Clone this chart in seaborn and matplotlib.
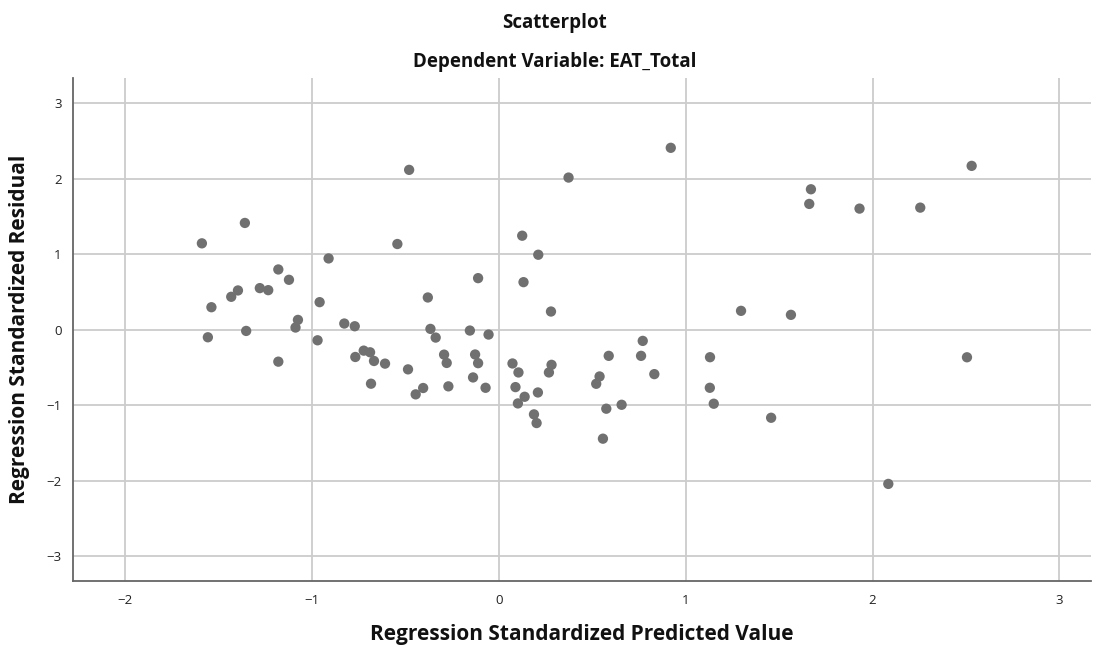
import numpy as np
import pandas as pd
import matplotlib
matplotlib.use("Agg")
import matplotlib.pyplot as plt
import seaborn as sns

# Values (standardized predicted value, standardized residual)
pred_values = [
    -1.589, -1.359, -0.480, -0.543, -0.911, -1.180, -1.123, -1.432, -1.396, -1.279,
    -1.234, -1.538, -1.557, -1.352, -0.959, -1.075, -1.088, -0.380, -0.970, -0.827,
    -0.771, -0.366, -0.338, -1.180,
    -0.768, -0.723, -0.689, -0.668, -0.609, -0.684, -0.486, -0.293, -0.279, -0.270,
    -0.445, -0.405,
    0.920, 0.373, 0.125, 0.211, -0.111, 0.132, 0.279, 1.296, -0.155, -0.055, 0.770,
    -0.127, -0.111, -0.138, -0.071, 0.073, 0.105, 0.089, 0.138, 0.102, 0.209,
    0.188, 0.202, 0.282, 0.268, 0.588, 0.539, 0.521, 0.575, 0.657, 0.557,
    0.761, 0.832, 1.130, 1.129, 1.150,
    2.530, 1.670, 1.661, 1.930, 2.255, 1.563, 2.505,
    1.457, 2.084,
]
resid_values = [
    1.142, 1.412, 2.115, 1.133, 0.942, 0.796, 0.659, 0.434, 0.518, 0.549,
    0.522, 0.296, -0.102, -0.018, 0.363, 0.128, 0.027, 0.425, -0.142, 0.080,
    0.044, 0.009, -0.106, -0.425,
    -0.363, -0.279, -0.301, -0.416, -0.451, -0.717, -0.527, -0.332, -0.442, -0.752,
    -0.858, -0.774,
    2.407, 2.013, 1.243, 0.991, 0.681, 0.628, 0.239, 0.248, -0.013, -0.066, -0.150,
    -0.330, -0.445, -0.634, -0.771, -0.449, -0.568, -0.762, -0.890, -0.978, -0.833,
    -1.123, -1.238, -0.467, -0.568, -0.348, -0.621, -0.718, -1.048, -0.996, -1.445,
    -0.348, -0.590, -0.366, -0.771, -0.982,
    2.168, 1.858, 1.664, 1.602, 1.615, 0.195, -0.367,
    -1.168, -2.044,
]
x_ticks = [-2, -1, 0, 1, 2, 3]
y_ticks = [-3, -2, -1, 0, 1, 2, 3]

data = pd.DataFrame({"Predicted": pred_values, "Residual": resid_values})

sns.set_theme(style="whitegrid")
plt.rcParams["font.family"] = ["Open Sans", "DejaVu Sans"]
plt.rcParams["axes.unicode_minus"] = True

fig = plt.figure(figsize=(11.09, 6.51), dpi=100)
ax = fig.add_axes([0.0656, 0.1075, 0.9184, 0.7725])

sns.scatterplot(
    data=data,
    x="Predicted",
    y="Residual",
    color="#707070",
    edgecolor="none",
    s=55,
    ax=ax,
    zorder=3,
)

ax.set_xlim(-2.28, 3.17)
ax.set_ylim(-3.33, 3.33)
ax.set_xticks(x_ticks)
ax.set_yticks(y_ticks)
ax.tick_params(axis="x", length=0, labelsize=9.5, colors="#222222", pad=9)
ax.tick_params(axis="y", length=0, labelsize=9.5, colors="#222222", pad=8)

# Grid and spines
ax.grid(True, color="#cccccc", linewidth=1.3)
for side in ["top", "right"]:
    ax.spines[side].set_visible(False)
for side in ["left", "bottom"]:
    ax.spines[side].set_color("#666666")
    ax.spines[side].set_linewidth(1.3)

# Titles and labels
fig.text(0.5, 0.964, "Scatterplot", ha="center", va="center",
         fontsize=13.5, fontweight="bold", color="#111111")
fig.text(0.5, 0.905, "Dependent Variable: EAT_Total", ha="center", va="center",
         fontsize=13.5, fontweight="bold", color="#111111")
ax.set_xlabel("Regression Standardized Predicted Value",
              fontsize=15, fontweight="bold", color="#111111")
ax.set_ylabel("Regression Standardized Residual",
              fontsize=15, fontweight="bold", color="#111111")
ax.xaxis.set_label_coords(0.5, -0.107)
ax.yaxis.set_label_coords(-0.052, 0.5)
ax.xaxis.label.set_va("center")
ax.yaxis.label.set_va("center")

plt.savefig("out.png", dpi=100)
